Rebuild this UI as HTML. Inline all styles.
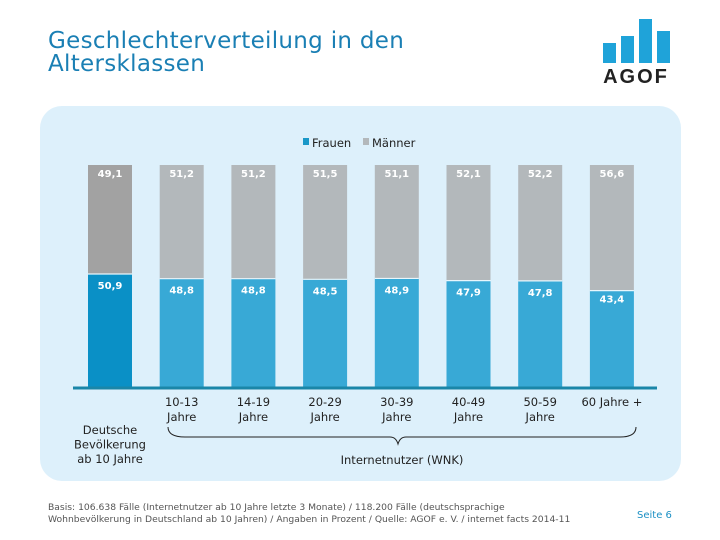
<!DOCTYPE html>
<html><head><meta charset="utf-8"><style>
body{margin:0;width:720px;height:540px;background:#fff;font-family:"DejaVu Sans",sans-serif;overflow:hidden;position:relative}
#title{position:absolute;left:48px;top:30px;font-size:23px;line-height:23px;color:#1a7fb4;letter-spacing:0.3px}
#panel{position:absolute;left:40px;top:106px;width:641px;height:375px;background:#ddf0fb;border-radius:22px}
#foot{position:absolute;left:48px;top:502px;font-size:9.2px;line-height:12px;color:#555}
#page{position:absolute;left:637px;top:510px;font-size:10px;color:#1a8fc4}
</style></head><body>
<div id="title">Geschlechterverteilung in den<br>Altersklassen</div>
<svg style="position:absolute;left:595px;top:15px" width="80" height="72">
<rect x="8" y="28" width="13" height="20" fill="#1fa3d9"/><rect x="26" y="21" width="13" height="27" fill="#1fa3d9"/><rect x="44" y="4" width="13" height="44" fill="#1fa3d9"/><rect x="62" y="16" width="13" height="32" fill="#1fa3d9"/>
<text x="41" y="68" text-anchor="middle" font-size="20" font-weight="bold" fill="#222" letter-spacing="2" font-family="Liberation Sans">AGOF</text></svg>
<div id="panel"></div>
<svg id="chart" style="position:absolute;left:0;top:0" width="720" height="540"></svg>
<div id="foot">Basis: 106.638 Fälle (Internetnutzer ab 10 Jahre letzte 3 Monate) / 118.200 Fälle (deutschsprachige<br>Wohnbevölkerung in Deutschland ab 10 Jahren) / Angaben in Prozent / Quelle: AGOF e. V. / internet facts 2014-11</div>
<div id="page">Seite 6</div>
<script>
const categories=["Deutsche|Bevölkerung|ab 10 Jahre","10-13|Jahre","14-19|Jahre","20-29|Jahre","30-39|Jahre","40-49|Jahre","50-59|Jahre","60 Jahre +"];
const frauen=[50.9,48.8,48.8,48.5,48.9,47.9,47.8,43.4];
const maenner=[49.1,51.2,51.2,51.5,51.1,52.1,52.2,56.6];
const NS="http://www.w3.org/2000/svg",svg=document.getElementById('chart');
function mk(t,a,txt){const e=document.createElementNS(NS,t);for(const k in a)e.setAttribute(k,a[k]);if(txt!=null)e.textContent=txt;svg.appendChild(e);return e;}
const x0=110,step=71.7,bw=44,yb=387,ph=222;
const xs=i=>x0+i*step, ys=v=>v/100*ph;
const fmt=v=>v.toFixed(1).replace('.',',');
categories.forEach((c,i)=>{
 const cx=xs(i),hf=ys(frauen[i]),hm=ys(maenner[i]);
 let r=mk('rect',{x:cx-bw/2,y:yb-hf,width:bw,height:hf,fill:i==0?'#0a90c6':'#38a9d6'});
 
 r=mk('rect',{x:cx-bw/2,y:yb-hf-hm,width:bw,height:hm,fill:i==0?'#a2a2a2':'#b3b8bb'});
 
 mk('line',{x1:cx-bw/2,x2:cx+bw/2,y1:yb-hf,y2:yb-hf,stroke:'#e8f6fc','stroke-width':1.2});
 let t=mk('text',{x:cx,y:yb-hf-hm+12,'text-anchor':'middle','font-size':10,'font-weight':'bold',fill:'#fff'},fmt(maenner[i]));
 
 t=mk('text',{x:cx,y:yb-hf+(i==7?12:15),'text-anchor':'middle','font-size':10,'font-weight':'bold',fill:'#fff'},fmt(frauen[i]));
 
 const lines=c.split('|');
 lines.forEach((l,j)=>{const ty=i==0?434+j*14.5:406+j*15;
  const e=mk('text',{x:cx,y:ty,'text-anchor':'middle','font-size':11.5,fill:'#222'},l);
  });
});
const ax=mk('line',{x1:73,x2:657,y1:yb+1,y2:yb+1,stroke:'#1a86a8','stroke-width':3});

const br=mk('path',{d:'M168,427 Q168,437 185,437 L390,437 Q396,437 398,444 Q400,437 406,437 L620,437 Q636,437 636,427',fill:'none',stroke:'#222','stroke-width':1});

const it=mk('text',{x:402,y:464,'text-anchor':'middle','font-size':11.5,fill:'#222'},'Internetnutzer (WNK)');

let lg=mk('rect',{x:303,y:138,width:6,height:7,fill:'#1a98c8'});
lg=mk('text',{x:312,y:147,'font-size':11.5,fill:'#222'},'Frauen');
lg=mk('rect',{x:363,y:138,width:6,height:7,fill:'#b3b8bb'});
lg=mk('text',{x:372,y:147,'font-size':11.5,fill:'#222'},'Männer');
</script>
</body></html>
